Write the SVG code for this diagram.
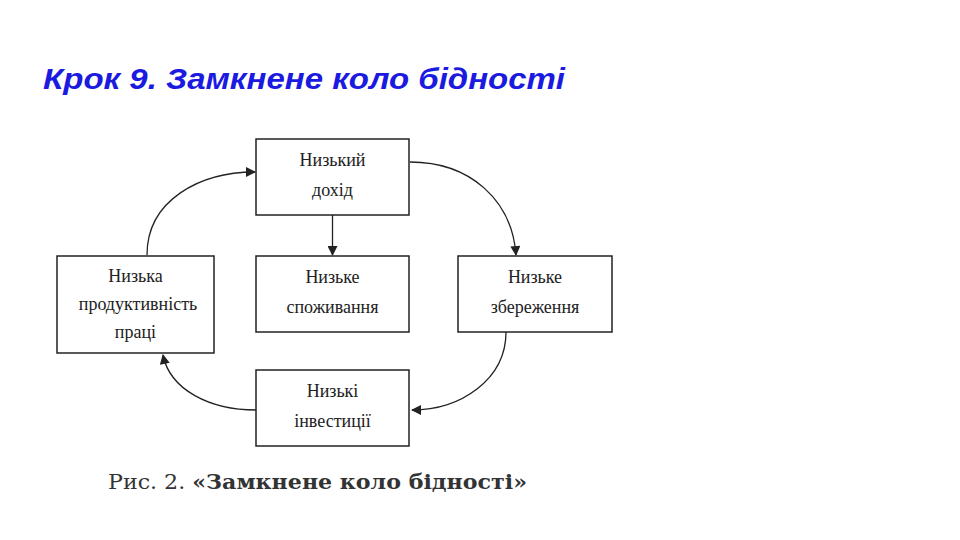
<svg xmlns="http://www.w3.org/2000/svg" width="960" height="540" viewBox="0 0 960 540">
<style>
.b{fill:#fff;stroke:#222;stroke-width:1.5}
.t{font-family:"Liberation Serif",serif;font-size:18px;fill:#222;text-anchor:middle}
.c{fill:none;stroke:#222;stroke-width:1.3;marker-end:url(#a)}
</style>
<defs><marker id="a" viewBox="0 0 10 10" refX="9" refY="5" markerWidth="11" markerHeight="10" orient="auto" markerUnits="userSpaceOnUse"><path d="M0,0L10,5L0,10z" fill="#222"/></marker></defs>
<rect width="960" height="540" fill="#fff"/>
<text x="43" y="89" font-family="Liberation Sans,sans-serif" font-size="30" font-weight="bold" font-style="italic" fill="#1a1ae0" textLength="522" lengthAdjust="spacingAndGlyphs">Крок 9. Замкнене коло бідності</text>
<g id="n1"><rect class="b" x="256" y="139" width="153" height="76"/><text class="t" x="332.5" y="166">Низький</text><text class="t" x="332.5" y="196">дохід</text></g>
<g id="n2"><rect class="b" x="256" y="256" width="153" height="76"/><text class="t" x="332.5" y="283">Низьке</text><text class="t" x="332.5" y="313">споживання</text></g>
<g id="n3"><rect class="b" x="458" y="256" width="154" height="76"/><text class="t" x="535" y="283">Низьке</text><text class="t" x="535" y="313">збереження</text></g>
<g id="n4"><rect class="b" x="256" y="370" width="153" height="76"/><text class="t" x="332.5" y="397">Низькі</text><text class="t" x="332.5" y="427">інвестиції</text></g>
<g id="n5"><rect class="b" x="57" y="256" width="157" height="97"/><text class="t" x="135.5" y="282">Низька</text><text class="t" x="138" y="310">продуктивність</text><text class="t" x="135.5" y="338">праці</text></g>
<g id="connectors">
<path class="c" d="M332.5,215V255"/>
<path class="c" d="M410,162C470,162 512,200 516,255"/>
<path class="c" d="M506,332C506,380 460,410 412,410"/>
<path class="c" d="M256,410C210,410 170,390 163,355"/>
<path class="c" d="M147,255C147,200 200,172 255,172"/>
</g>
<text x="108" y="489" font-family="DejaVu Serif,serif" font-size="20" fill="#333" textLength="419" lengthAdjust="spacingAndGlyphs">Рис. 2. <tspan font-weight="bold">«Замкнене коло бідності»</tspan></text>
</svg>
